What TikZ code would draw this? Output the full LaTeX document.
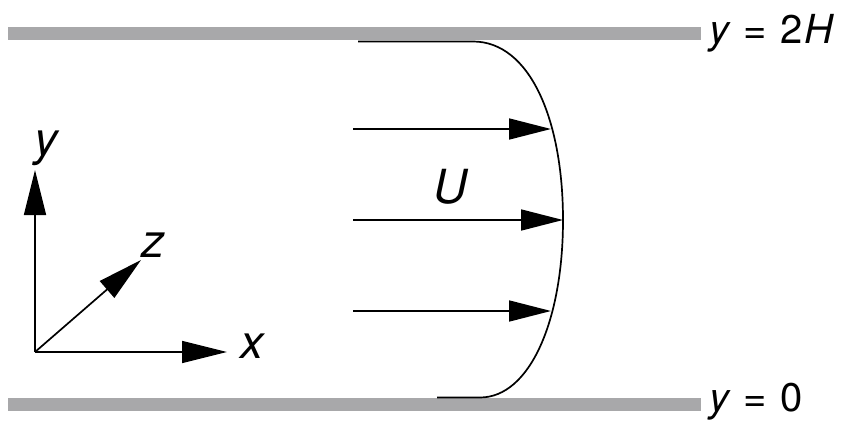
\documentclass[tikz,border=0pt]{standalone}
\usepackage{fontspec}
\setmainfont{TeX Gyre Heros}
\usetikzlibrary{arrows.meta}
\definecolor{wallgray}{RGB}{168,168,170}
\tikzset{
  wall/.style={line width=13pt, wallgray},
  prof/.style={line width=1.7pt, black},
  flowarrow/.style={line width=1.7pt, -{Triangle[length=42pt,width=21pt]}},
  axisarrow/.style={line width=1.7pt, -{Triangle[length=45pt,width=22pt]}},
  biglabel/.style={inner sep=0pt, anchor=base west, font=\fontsize{47}{50}\selectfont},
  walllabel/.style={inner sep=0pt, anchor=base west, font=\fontsize{40}{42}\selectfont},
}
\newcommand{\eqsp}{\hspace{13pt}}
\begin{document}
\begin{tikzpicture}[x=1pt,y=-1pt]
\useasboundingbox (0,0) rectangle (846,423);
% walls
\coordinate (tw1) at (8,33.5);
\coordinate (tw2) at (701,33.5);
\coordinate (bw1) at (8,404);
\coordinate (bw2) at (701,404);
\draw[wall] (tw1) -- (tw2);
\draw[wall] (bw1) -- (bw2);
\node[walllabel] (ltop) at (709,43) {\textit{y}\eqsp=\eqsp2\hspace{2pt}\textit{H}};
\node[walllabel] (lbot) at (709,411) {\textit{y}\eqsp=\eqsp0};
% velocity profile
\coordinate (pt0) at (358,41.5);
\coordinate (pt1) at (473,41.5);
\coordinate (pm) at (563,220);
\coordinate (pb1) at (480,397.5);
\coordinate (pb0) at (437,397.5);
\draw[prof] (pt0) -- (pt1) .. controls (530,41.5) and (563,120) .. (pm)
  .. controls (563,320) and (530,397.5) .. (pb1) -- (pb0);
% flow arrows
\coordinate (a1s) at (353,129);
\coordinate (a1e) at (551,129);
\coordinate (a2s) at (353,220);
\coordinate (a2e) at (563,220);
\coordinate (a3s) at (353,311);
\coordinate (a3e) at (551,311);
\draw[flowarrow] (a1s) -- (a1e);
\draw[flowarrow] (a2s) -- (a2e);
\draw[flowarrow] (a3s) -- (a3e);
\node[biglabel] (U) at (433,203) {\textit{U}};
% axes
\coordinate (O) at (35,352);
\coordinate (ytip) at (35,170);
\coordinate (xtip) at (227,352);
\coordinate (ztip) at (141,260);
\draw[axisarrow] (O) -- (ytip);
\draw[axisarrow] (O) -- (xtip);
\draw[axisarrow] (O) -- (ztip);
\node[biglabel] (ly) at (34,155) {\textit{y}};
\node[biglabel] (lx) at (240,358) {\textit{x}};
\node[biglabel] (lz) at (141,257) {\textit{z}};
\end{tikzpicture}
\end{document}
